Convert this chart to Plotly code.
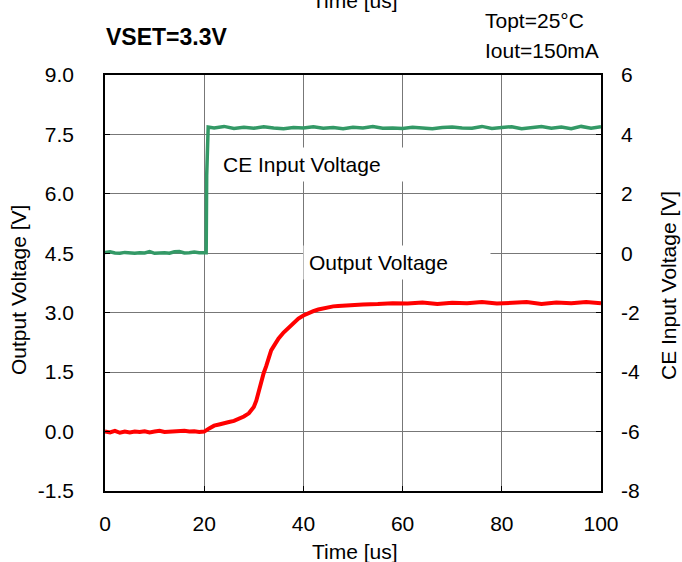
import plotly.graph_objects as go

# ---- data ----
ce_time = [0,1,2,3,4,5,6,7,8,9,10,11,12,13,14,15,16,17,18,19,20,20.4,20.5,20.8,
           22,24,26,28,30,32,34,36,38,40,42,44,46,48,50,52,54,56,58,60,62,64,66,68,70,
           72,74,76,78,80,82,84,86,88,90,92,94,96,98,100]
ce_volt = [0.03,0.05,0.01,0.0,0.03,0.01,0.0,0.02,0.01,0.06,0.0,0.01,0.02,0.0,0.05,0.06,0.01,0.02,0.04,0.02,0.02,0.02,2.6,4.25,
           4.22,4.27,4.20,4.24,4.21,4.26,4.22,4.19,4.23,4.22,4.26,4.21,4.23,4.19,4.24,4.22,4.27,4.21,4.22,4.20,4.24,4.22,4.19,4.23,4.25,
           4.22,4.21,4.27,4.20,4.23,4.26,4.19,4.24,4.27,4.21,4.25,4.19,4.27,4.21,4.26]

out_time = [0,1,2,3,4,5,6,7,8,9,10,11,12,13,14,15,16,17,18,19,20,21,22,23,24,25,26,27,28,29,30,30.5,31,31.5,32,32.5,33,33.5,34,
            35,36,37,38,39,40,41,42,43,44,45,46,47,48,50,52,55,58,61,64,67,70,73,76,79,82,85,88,91,94,97,100]
out_volt = [0.0,-0.02,0.02,-0.03,0.0,-0.02,0.0,-0.01,0.01,-0.02,0.0,0.02,-0.01,0.0,0.01,0.0,0.02,0.0,0.01,-0.01,0.0,0.08,0.15,0.18,0.22,0.24,0.27,0.32,0.38,0.46,0.62,0.78,1.05,1.3,1.48,1.65,1.9,2.05,2.15,
            2.35,2.5,2.62,2.75,2.85,2.93,2.99,3.04,3.08,3.11,3.14,3.16,3.17,3.18,3.2,3.21,3.22,3.24,3.23,3.26,3.22,3.25,3.24,3.27,3.23,3.25,3.27,3.22,3.26,3.24,3.27,3.24]

x_ticks = [0, 20, 40, 60, 80, 100]
y_ticks = [-1.5, 0.0, 1.5, 3.0, 4.5, 6.0, 7.5, 9.0]
y_labels = ["-1.5", "0.0", "1.5", "3.0", "4.5", "6.0", "7.5", "9.0"]
y2_ticks = [-8, -6, -4, -2, 0, 2, 4, 6]
y2_labels = ["-8", "-6", "-4", "-2", "0", "2", "4", "6"]

FONT = "Liberation Sans, Arial, sans-serif"
FS = 21
PW, PH = 496, 416  # plot area size in px

fig = go.Figure()
fig.add_trace(go.Scatter(x=out_time, y=out_volt, mode="lines", name="Output Voltage",
                         line=dict(color="#ff0000", width=4), yaxis="y"))
fig.add_trace(go.Scatter(x=ce_time, y=ce_volt, mode="lines", name="CE Input Voltage",
                         line=dict(color="#339966", width=3.5), yaxis="y2"))

axis_common = dict(showline=True, linecolor="black", linewidth=1.5, ticks="inside",
                   ticklen=5, tickcolor="black", tickfont=dict(size=FS, color="black"),
                   zeroline=False)

fig.update_layout(
    width=682, height=562,
    margin=dict(l=105, r=81, t=75, b=71),
    paper_bgcolor="white", plot_bgcolor="white",
    font=dict(family=FONT, color="black", size=FS),
    showlegend=False,
    xaxis=dict(range=[0, 100], tickvals=x_ticks, showgrid=True, gridcolor="#777777", gridwidth=1,
               mirror=True, ticklabelstandoff=13, **axis_common),
    yaxis=dict(range=[-1.5, 9], tickvals=y_ticks, ticktext=y_labels, showgrid=True,
               gridcolor="#777777", gridwidth=1, ticklabelstandoff=25, **axis_common),
    yaxis2=dict(range=[-8, 6], tickvals=y2_ticks, ticktext=y2_labels, overlaying="y", side="right",
                showgrid=False, ticklabelstandoff=14, **axis_common),
)

def note(text, x, y, **kw):
    base = dict(xref="paper", yref="paper", showarrow=False, font=dict(size=FS))
    base.update(kw)
    fig.add_annotation(x=x, y=y, text=text, **base)

# axis titles
note("Time [us]", (355 - 105) / PW, -(551 - 491) / PH, xanchor="center", yanchor="middle")
note("Output Voltage [V]", (18 - 105) / PW, (491 - 290) / PH, textangle=-90,
     xanchor="center", yanchor="middle")
note("CE Input Voltage [V]", (668 - 105) / PW, (491 - 286) / PH, textangle=-90,
     xanchor="center", yanchor="middle")
# cut-off top title
note("Time [us]", (355 - 105) / PW, 1 + 74 / PH, xanchor="center", yanchor="middle")
# header texts
note("<b>VSET=3.3V</b>", -1 / PW, 1 + 37.5 / PH, xanchor="left", yanchor="middle", font=dict(size=23))
note("Topt=25°C", (483 - 105) / PW, 1 + 54.5 / PH, xanchor="left", yanchor="middle")
note("Iout=150mA", (483 - 105) / PW, 1 + 24.5 / PH, xanchor="left", yanchor="middle")

# in-plot labels
fig.add_annotation(x=22.5, xref="x", y=3.0, yref="y2", xanchor="left", yanchor="middle",
                   text="CE Input Voltage", showarrow=False, font=dict(size=FS),
                   bgcolor="white", width=180, align="left", borderpad=5)
fig.add_annotation(x=40, xref="x", y=4.27, yref="y", xanchor="left", yanchor="middle",
                   text="Output Voltage", showarrow=False, font=dict(size=FS),
                   bgcolor="white", width=176, align="left", borderpad=5)

fig.write_html("out.html", config={"displayModeBar": False},
               post_script="document.body.style.margin='0';")
